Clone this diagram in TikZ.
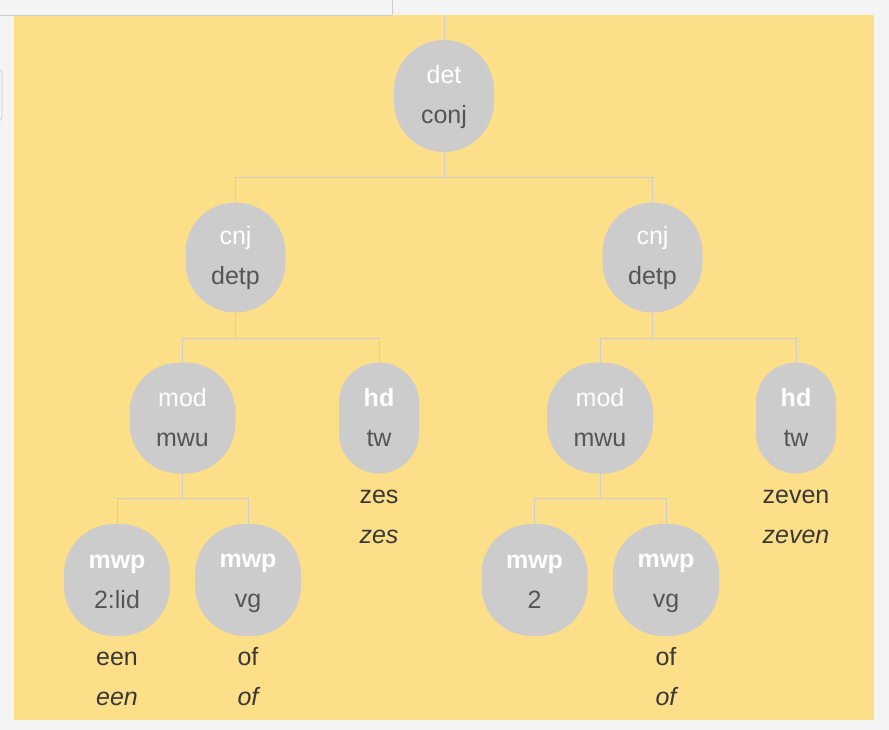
\documentclass[tikz,border=0pt]{standalone}
\usepackage{fontspec}
\setmainfont{Liberation Sans}
\usetikzlibrary{backgrounds}
\definecolor{pagebg}{HTML}{F4F4F4}
\definecolor{panelbg}{HTML}{FDDE89}
\definecolor{edgegray}{HTML}{CDCDCD}
\definecolor{nodegray}{HTML}{CCCCCC}
\definecolor{labgray}{HTML}{555555}
\definecolor{wordcol}{HTML}{383838}
\newcommand\mystrut{\rule[-4pt]{0pt}{24pt}}
\newcommand\lab[2]{\mystrut\textcolor{white}{#1}\\\mystrut\textcolor{labgray}{#2}}
% rounded blob behind a node: #1 node name, #2 corner radius
\newcommand\blob[2]{%
  \fill[nodegray] ([xshift=#2]#1.north west) -- ([xshift=-#2]#1.north east)
    arc[start angle=90,end angle=0,radius=#2] -- ([yshift=#2]#1.south east)
    arc[start angle=0,end angle=-90,radius=#2] -- ([xshift=#2]#1.south west)
    arc[start angle=270,end angle=180,radius=#2] -- ([yshift=-#2]#1.north west)
    arc[start angle=180,end angle=90,radius=#2] -- cycle;}
\tikzset{
  tnode/.style={draw=none, rectangle,
    minimum width=#1, minimum height=111pt, inner sep=0pt, outer sep=0pt, align=center,
    font=\fontsize{25}{40}\selectfont},
  tnode/.default=106pt,
  narrow/.style={tnode=80pt},
  edge/.style={draw=edgegray, line width=0.8pt},
  word/.style={font=\fontsize{25}{28}\selectfont, text=wordcol, anchor=base, inner sep=0pt}
}
\begin{document}
\begin{tikzpicture}[x=1pt,y=-1pt]
\useasboundingbox (0,0) rectangle (889,730);

% nodes
\node[tnode=100pt, minimum height=112pt] (det) at (444,96) {\lab{det}{conj}};
\node[tnode=100pt, minimum height=110pt] (cnjL) at (235.5,257.5) {\lab{cnj}{detp}};
\node[tnode=100pt, minimum height=110pt] (cnjR) at (652.5,257.5) {\lab{cnj}{detp}};
\node[tnode] (modL) at (182.5,418) {\lab{mod}{mwu}};
\node[narrow] (hdL) at (379,418) {\lab{\textbf{hd}}{tw}};
\node[tnode] (modR) at (600,418) {\lab{mod}{mwu}};
\node[narrow] (hdR) at (796,418) {\lab{\textbf{hd}}{tw}};
\node[tnode, minimum height=112pt] (mwpA) at (117,580) {\lab{\textbf{mwp}}{2:lid}};
\node[tnode, minimum height=112pt] (mwpB) at (248,580) {\lab{\textbf{mwp}}{vg}};
\node[tnode, minimum height=112pt] (mwpC) at (534.5,580) {\lab{\textbf{mwp}}{2}};
\node[tnode, minimum height=112pt] (mwpD) at (666,580) {\lab{\textbf{mwp}}{vg}};

\begin{scope}[on background layer]
\fill[pagebg] (0,0) rectangle (889,730);
\fill[panelbg] (14,15) rectangle (874,720);
\draw[edge] (0,15) -- (392,15);
\draw[edge] (392,0) -- (392,15);
\draw[edge, rounded corners=6pt] (-20,68) rectangle (2,122);
\blob{det}{50pt}
\blob{cnjL}{50pt}
\blob{cnjR}{50pt}
\blob{modL}{50pt}
\blob{modR}{50pt}
\blob{hdL}{40pt}
\blob{hdR}{40pt}
\blob{mwpA}{50pt}
\blob{mwpB}{50pt}
\blob{mwpC}{50pt}
\blob{mwpD}{50pt}
\end{scope}

% words
\node[word] (wA1) at ([yshift=-85pt]hdL.center) {zes};
\node[word] (wA2) at ([yshift=-125pt]hdL.center) {\itshape zes};
\node[word] (wB1) at ([yshift=-85pt]hdR.center) {zeven};
\node[word] (wB2) at ([yshift=-125pt]hdR.center) {\itshape zeven};
\node[word] (wC1) at ([yshift=-85pt]mwpA.center) {een};
\node[word] (wC2) at ([yshift=-125pt]mwpA.center) {\itshape een};
\node[word] (wD1) at ([yshift=-85pt]mwpB.center) {of};
\node[word] (wD2) at ([yshift=-125pt]mwpB.center) {\itshape of};
\node[word] (wE1) at ([yshift=-85pt]mwpD.center) {of};
\node[word] (wE2) at ([yshift=-125pt]mwpD.center) {\itshape of};

% edges
\coordinate (ptop) at (444,15);
\draw[edge] (ptop) -- (det.north);
\draw[edge] (det.south) -- ++(0,25) -| (cnjL.north);
\draw[edge] (det.south) -- ++(0,25) -| (cnjR.north);
\draw[edge] (cnjL.south) -- ++(0,25.5) -| (modL.north);
\draw[edge] (cnjL.south) -- ++(0,25.5) -| (hdL.north);
\draw[edge] (cnjR.south) -- ++(0,25.5) -| (modR.north);
\draw[edge] (cnjR.south) -- ++(0,25.5) -| (hdR.north);
\draw[edge] (modL.south) -- ++(0,25) -| (mwpA.north);
\draw[edge] (modL.south) -- ++(0,25) -| (mwpB.north);
\draw[edge] (modR.south) -- ++(0,25) -| (mwpC.north);
\draw[edge] (modR.south) -- ++(0,25) -| (mwpD.north);
\end{tikzpicture}
\end{document}
